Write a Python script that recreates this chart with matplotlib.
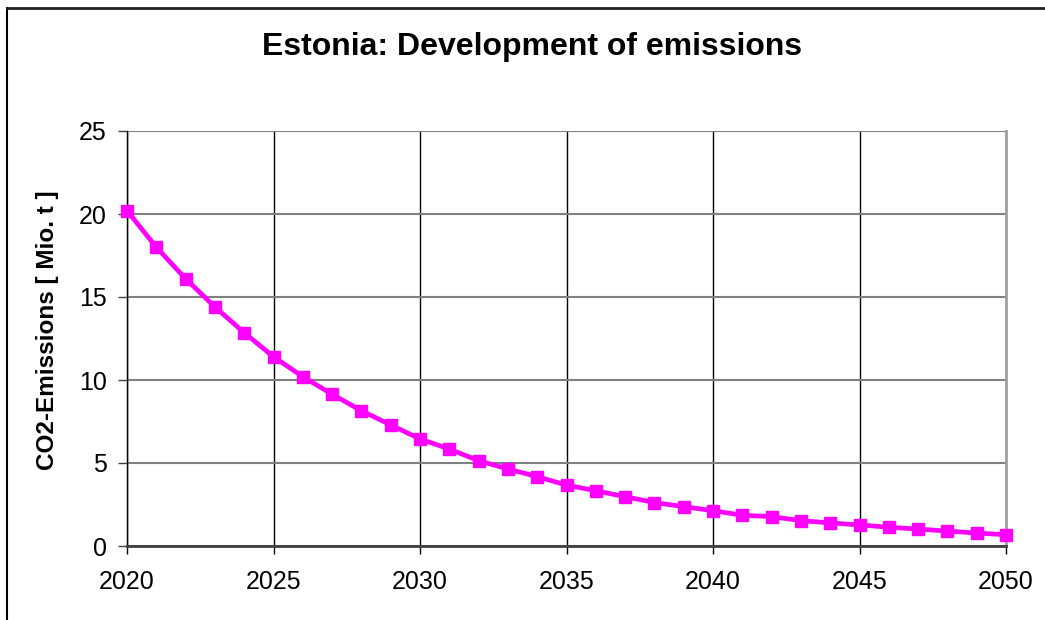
import numpy as np
import matplotlib
matplotlib.use('Agg')
import matplotlib.pyplot as plt
from matplotlib.lines import Line2D

plt.rcParams['font.family'] = ['Liberation Sans', 'DejaVu Sans']

years = np.arange(2020, 2051)
emissions = [20.2, 18.0, 16.1, 14.4, 12.85, 11.4, 10.2, 9.14, 8.15, 7.29,
             6.45, 5.84, 5.14, 4.64, 4.18, 3.67, 3.33, 2.97, 2.62, 2.37,
             2.13, 1.85, 1.77, 1.53, 1.39, 1.27, 1.13, 1.02, 0.90, 0.78,
             0.68]
xticks = [2020, 2025, 2030, 2035, 2040, 2045, 2050]
yticks = [0, 5, 10, 15, 20, 25]

fig = plt.figure(figsize=(10.45, 6.2), dpi=100)
ax = fig.add_axes([127/1045, 1 - 546/620, 879/1045, 415/620])

ax.plot(years, emissions, color='#ff00ff', lw=3.4, marker='s', ms=8.5,
        mec='#ff00ff', mfc='#ff00ff', zorder=5, clip_on=False)

ax.set_xlim(2020, 2050)
ax.set_ylim(0, 25)
ax.set_xticks(xticks)
ax.set_yticks(yticks)

# horizontal grid grey, vertical grid black
ax.grid(axis='y', color='#808080', lw=1.5)
ax.grid(axis='x', color='black', lw=1.0)
ax.set_axisbelow(True)

ax.spines['top'].set_visible(False)
ax.spines['right'].set_color('#a0a0a0')
ax.spines['right'].set_linewidth(2.0)
ax.spines['left'].set_color('black')
ax.spines['left'].set_linewidth(1.0)
ax.spines['bottom'].set_color('#404040')
ax.spines['bottom'].set_linewidth(2.0)

ax.tick_params(axis='x', direction='out', length=5.5, width=1, color='black',
               labelsize=18, pad=12)
ax.tick_params(axis='y', direction='out', length=6.5, width=1, color='#404040',
               labelsize=18, pad=8)

fig.text(532/1045, 1 - 47/620, 'Estonia: Development of emissions',
         ha='center', va='center', fontsize=23, fontweight='bold')
fig.text(48/1045, 1 - 330/620, 'CO2-Emissions [ Mio. t ]', rotation=90,
         ha='center', va='center', fontsize=17.5, fontweight='bold')

# outer frame (only top and left edges fall inside the canvas)
fig.add_artist(Line2D([7/1045, 7/1045], [0, 1 - 8/620], color='black',
                      lw=1.5, transform=fig.transFigure))
fig.add_artist(Line2D([7/1045, 1], [1 - 8/620, 1 - 8/620], color='#202020',
                      lw=2.0, transform=fig.transFigure))

fig.savefig('out.png', dpi=100)
